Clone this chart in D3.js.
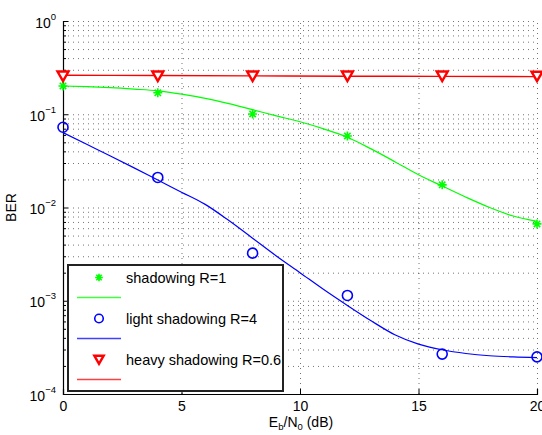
<!DOCTYPE html>
<html>
<head>
<meta charset="utf-8">
<script src="https://cdn.jsdelivr.net/npm/d3@7"></script>
<style>
  html, body { margin: 0; padding: 0; background: #fff; overflow: hidden; }
  svg { display: block; font-family: "Liberation Sans", Arial, sans-serif; }
  .grid line { stroke: #000; stroke-dasharray: 1,4; stroke-opacity: 0.55; }
  .grid path { display: none; }
</style>
</head>
<body>
<div id="chart"></div>
<script>
// measured points (markers)
const markerX = [0, 4, 8, 12, 16, 20];
const shadowPts = [0.201, 0.170, 0.1007, 0.0585, 0.0175, 0.00667];
const lightPts = [0.0725, 0.021, 0.00324, 0.00114, 0.000268, 0.00025];
const heavyPts = [0.257, 0.257, 0.257, 0.257, 0.257, 0.256];

// theory curves
const curveX = [0,1,2,3,4,5,6,7,8,9,10,11,12,13,14,15,16,17,18,19,20];
const shadowLine = [0.201,0.198,0.193,0.186,0.178,0.164,0.148,0.130,0.112,0.096,0.083,
    0.0697,0.0567,0.0425,0.031,0.0224,0.017,0.0129,0.010,0.0081,0.0071];
const lightLine = [0.0635,0.0476,0.0357,0.0266,0.0197,0.0146,0.0108,0.00724,0.00468,0.00302,0.0020,
    0.00132,0.000891,0.00061,0.000432,0.000343,0.000298,0.000272,0.000257,0.00025,0.000246];
const heavyX = [0, 4, 8, 12, 16, 20];
const heavyLine = [0.262, 0.260, 0.258, 0.256, 0.255, 0.253];

const xTicks = [0, 5, 10, 15, 20];
const yTicks = [1e-4, 1e-3, 1e-2, 1e-1, 1e0];
const yExps = ["\u22124", "\u22123", "\u22122", "\u22121", "0"];

const legendItems = [
    { name: "shadowing R=1", color: "#00ff00", shape: "star" },
    { name: "light shadowing R=4", color: "#0000ff", shape: "circle" },
    { name: "heavy shadowing R=0.6", color: "#ff0000", shape: "tri" }
];

// x label pieces: [text, subscript?]
const xLabelParts = [["E", false], ["b", true], ["/N", false], ["0", true], [" (dB)", false]];

const width = 542, height = 435;
const margin = { left: 63, right: 5, top: 21, bottom: 41 };
const innerWidth = width - margin.left - margin.right;
const innerHeight = height - margin.top - margin.bottom;

const svg = d3.select("#chart").append("svg")
    .attr("width", width)
    .attr("height", height);

const g = svg.append("g")
    .attr("transform", "translate(" + margin.left + "," + margin.top + ")");

const xScale = d3.scaleLinear().domain([0, 20]).range([0, innerWidth]);
const yScale = d3.scaleLog().domain([1e-4, 1]).range([innerHeight, 0]);

// minor log values
let minorVals = [];
for (let e = -4; e < 0; e++) {
    for (let m = 2; m <= 9; m++) minorVals.push(m * Math.pow(10, e));
}

// grid
g.append("g").attr("class", "grid")
    .call(d3.axisLeft(yScale).tickValues(yTicks.concat(minorVals)).tickSize(-innerWidth).tickFormat(""))
    .selectAll("text").remove();
g.append("g").attr("class", "grid")
    .attr("transform", "translate(0," + innerHeight + ")")
    .call(d3.axisBottom(xScale).tickValues(xTicks.slice(1)).tickSize(-innerHeight).tickFormat(""))
    .selectAll("text").remove();

// axes
const yAxis = g.append("g")
    .call(d3.axisLeft(yScale).tickValues(yTicks).tickSize(-5).tickFormat(""));
yAxis.select(".domain").attr("stroke-width", 1.2);
yAxis.selectAll(".tick text").remove();
yAxis.selectAll(".tick").each(function(d, i) {
    const t = d3.select(this);
    const ex = t.append("text")
        .attr("fill", "#000").attr("font-size", 9.5)
        .attr("text-anchor", "end")
        .attr("x", -7).attr("y", -2)
        .text(yExps[i]);
    const w = ex.node().getComputedTextLength();
    t.append("text")
        .attr("fill", "#000").attr("font-size", 14)
        .attr("text-anchor", "end")
        .attr("x", -7 - w).attr("y", 6)
        .text("10");
});

const minorAxis = g.append("g")
    .call(d3.axisLeft(yScale).tickValues(minorVals).tickSize(-3).tickFormat(""));
minorAxis.select(".domain").remove();
minorAxis.selectAll("text").remove();

const xAxis = g.append("g")
    .attr("transform", "translate(0," + innerHeight + ")")
    .call(d3.axisBottom(xScale).tickValues(xTicks).tickSize(-5).tickPadding(7).tickFormat(d3.format("d")));
xAxis.select(".domain").attr("stroke-width", 1.2);
xAxis.selectAll(".tick text").attr("font-size", 14).attr("fill", "#000");

// curves
const line = d3.line()
    .x(d => xScale(d[0]))
    .y(d => yScale(d[1]))
    .curve(d3.curveMonotoneX);

g.append("path")
    .attr("fill", "none").attr("stroke", "#00ff00").attr("stroke-width", 1.2)
    .attr("d", line(curveX.map((x, i) => [x, shadowLine[i]])));
g.append("path")
    .attr("fill", "none").attr("stroke", "#0000ff").attr("stroke-width", 1.2)
    .attr("d", line(curveX.map((x, i) => [x, lightLine[i]])));
g.append("path")
    .attr("fill", "none").attr("stroke", "#ff0000").attr("stroke-width", 1.4)
    .attr("d", line(heavyX.map((x, i) => [x, heavyLine[i]])));

// marker drawing
function drawMarker(sel, shape, color, k) {
    k = k || 1;
    if (shape === "star") {
        const r = 4.5 * k;
        let p = "";
        [0, 45, 90, 135].forEach(a => {
            const dx = r * Math.cos(a * Math.PI / 180), dy = r * Math.sin(a * Math.PI / 180);
            p += "M" + (-dx) + "," + (-dy) + "L" + dx + "," + dy;
        });
        sel.append("path").attr("d", p).attr("stroke", color).attr("stroke-width", 1.6).attr("fill", "none");
    } else if (shape === "circle") {
        sel.append("circle").attr("r", 5 * k).attr("fill", "none").attr("stroke", color).attr("stroke-width", 1.6);
    } else {
        sel.append("path")
            .attr("d", "M" + (-5.5 * k) + "," + (-4.5 * k) + "L" + (5.5 * k) + "," + (-4.5 * k) + "L0," + (5 * k) + "z")
            .attr("fill", "#fff").attr("stroke", color).attr("stroke-width", 2.4)
            .attr("stroke-linejoin", "miter");
    }
}

[[shadowPts, "star", "#00ff00"], [lightPts, "circle", "#0000ff"], [heavyPts, "tri", "#ff0000"]]
    .forEach(([vals, shape, color]) => {
        g.append("g").selectAll("g")
            .data(vals)
            .join("g")
            .attr("transform", (d, i) => "translate(" + xScale(markerX[i]) + "," + yScale(d) + ")")
            .each(function() { drawMarker(d3.select(this), shape, color); });
    });

// legend
const leg = svg.append("g").attr("transform", "translate(68,265)");
leg.append("rect")
    .attr("width", 215).attr("height", 126)
    .attr("fill", "#fff").attr("stroke", "#222").attr("stroke-width", 2);
legendItems.forEach((it, i) => {
    const y0 = 12.5 + i * 41;
    const m = leg.append("g").attr("transform", "translate(31," + y0 + ")");
    drawMarker(m, it.shape, it.color, 0.85);
    leg.append("text")
        .attr("x", 58).attr("y", y0 + 5.3)
        .attr("font-size", 14.5).attr("fill", "#000")
        .text(it.name);
    leg.append("line")
        .attr("x1", 9).attr("x2", 53)
        .attr("y1", y0 + 20).attr("y2", y0 + 20)
        .attr("stroke", it.color).attr("stroke-width", 1.4).attr("stroke-opacity", 0.75);
});

// axis labels
svg.append("text")
    .attr("transform", "translate(16," + (margin.top + innerHeight / 2) + ") rotate(-90)")
    .attr("text-anchor", "middle")
    .attr("font-size", 14)
    .text("BER");

// x label laid out piece by piece, then centred
const xl = svg.append("g");
let cx = 0;
xLabelParts.forEach(([txt, sub]) => {
    const t = xl.append("text")
        .attr("x", cx)
        .attr("y", sub ? 2.5 : 0)
        .attr("font-size", sub ? 9.5 : 14)
        .attr("fill", "#000")
        .attr("xml:space", "preserve")
        .text(txt);
    cx += t.node().getComputedTextLength();
});
xl.attr("transform", "translate(" + (margin.left + innerWidth / 2 + 1 - cx / 2) + ",427)");
</script>
</body>
</html>
